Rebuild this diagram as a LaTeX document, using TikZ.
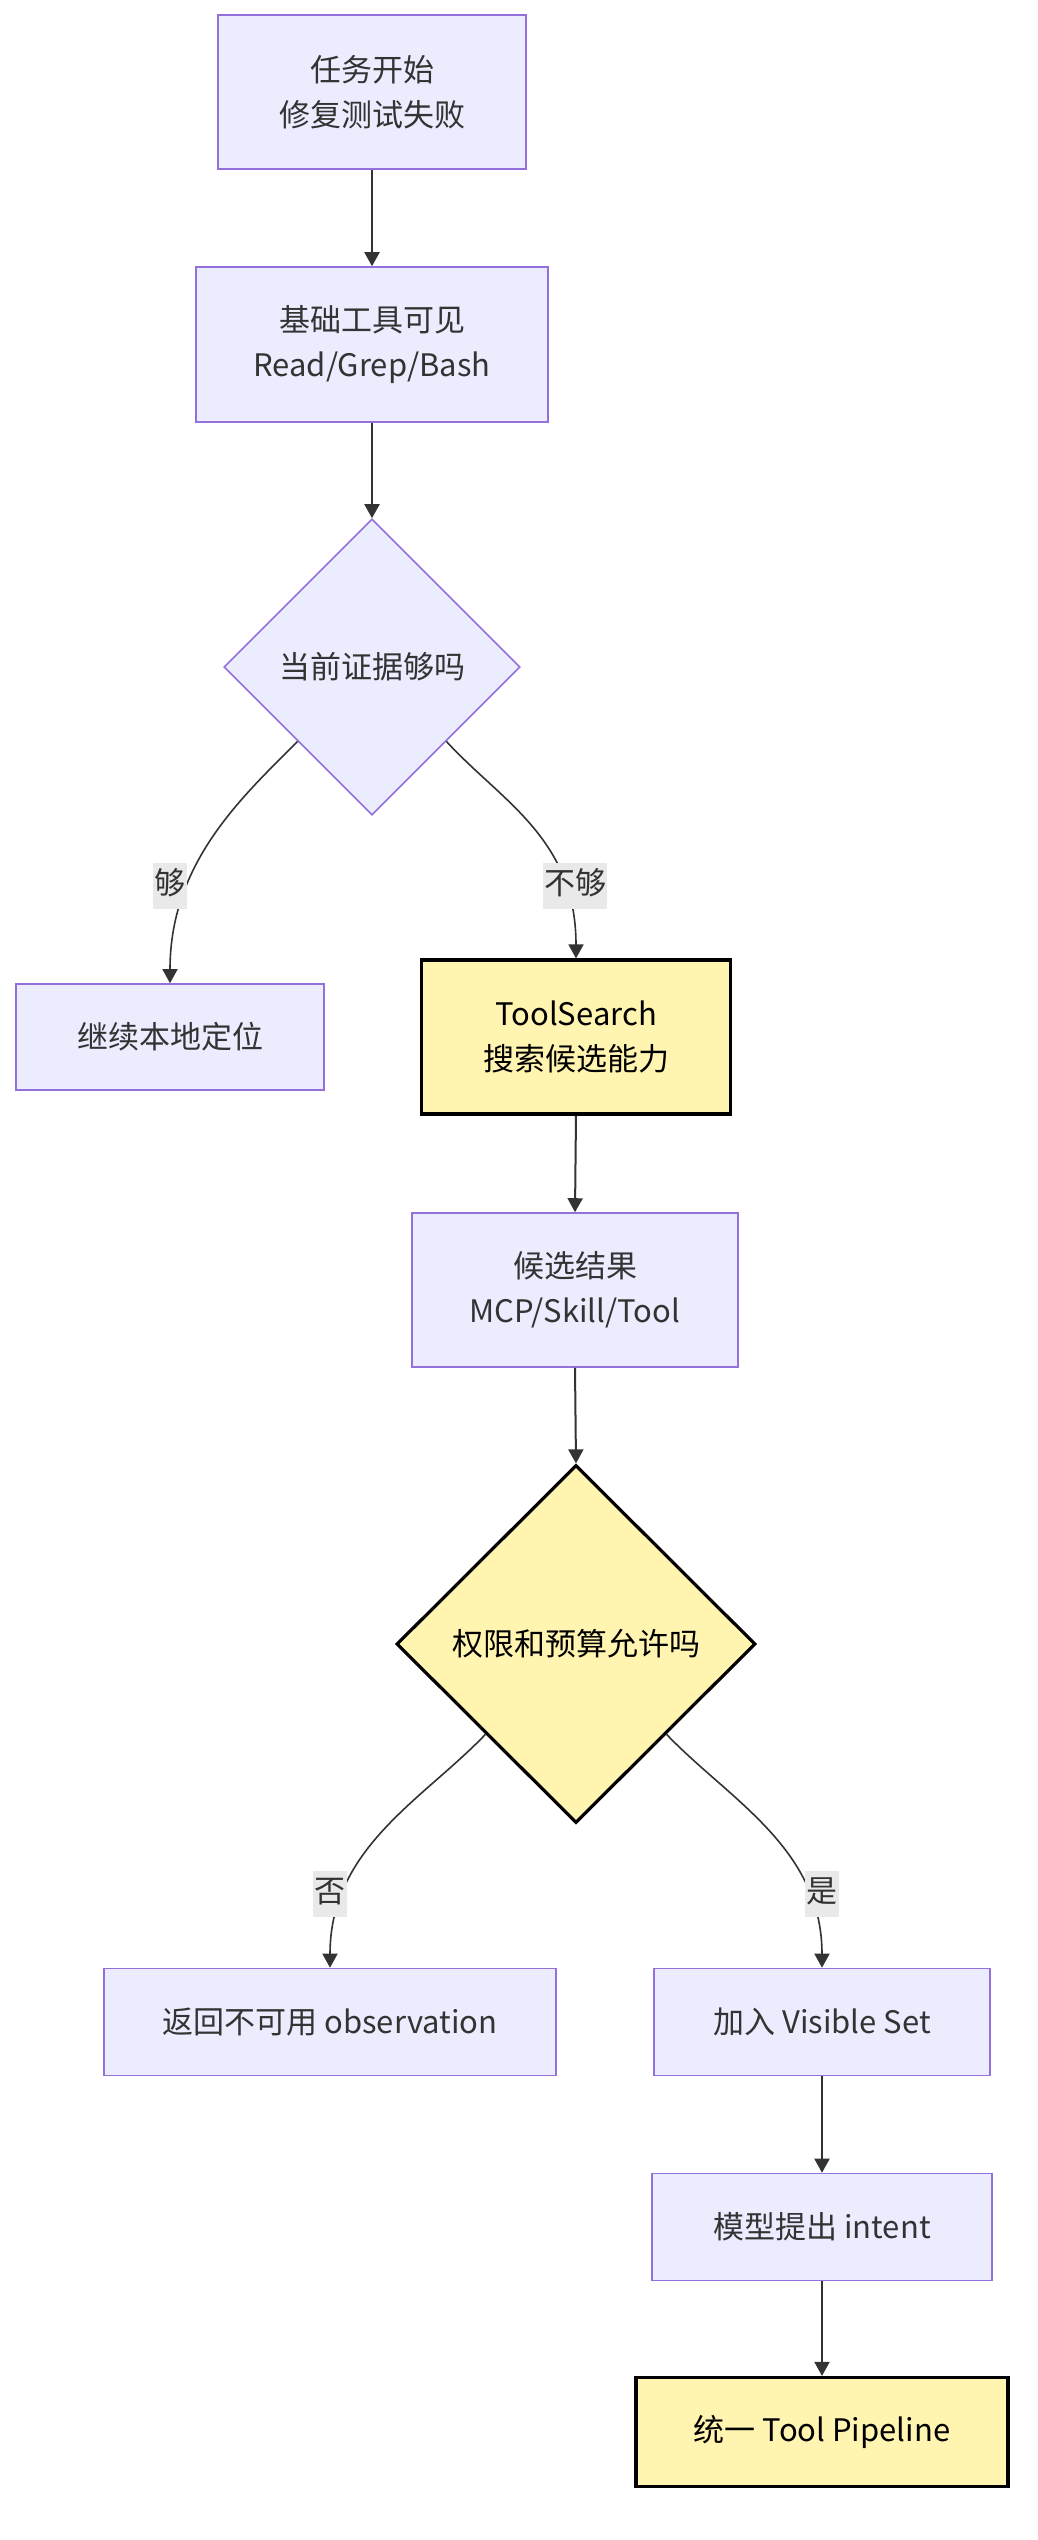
\documentclass[tikz,border=0pt]{standalone}
\usepackage{fontspec}
\setmainfont{Noto Sans CJK SC}
\usetikzlibrary{shapes.geometric,arrows.meta,calc}
\definecolor{mfill}{HTML}{ECECFF}
\definecolor{mstroke}{HTML}{9370DB}
\definecolor{mtext}{HTML}{333333}
\definecolor{hfill}{HTML}{FFF4B0}
\definecolor{edgec}{HTML}{333333}
\definecolor{lblgray}{HTML}{E9E9E9}
\tikzset{
  base/.style={align=center, inner sep=0pt, font=\fontsize{15.5pt}{22.5pt}\selectfont},
  proc/.style={base, rectangle, draw=mstroke, fill=mfill, line width=0.8pt, text=mtext},
  hproc/.style={base, rectangle, draw=black, fill=hfill, line width=1.6pt, text=black},
  dec/.style={base, diamond, aspect=1, draw=mstroke, fill=mfill, line width=0.8pt, text=mtext},
  hdec/.style={base, diamond, aspect=1, draw=black, fill=hfill, line width=1.6pt, text=black},
  lbl/.style={base, fill=lblgray, text=mtext, inner xsep=0.6pt, inner ysep=4pt, text height=11.5pt, text depth=3.5pt},
  arr/.style={draw=edgec, line width=1pt, -{Triangle[length=7pt,width=7.5pt]}},
  carr/.style={draw=edgec, line width=0.8pt, -{Triangle[length=7pt,width=7.5pt]}}
}
\begin{document}
\begin{tikzpicture}[x=0.5pt,y=0.5pt]
\fill[white] (0,0) rectangle (1038,-2540);
\useasboundingbox (0,0) rectangle (1038,-2540);

\node[proc, minimum width=154pt, minimum height=77pt] (b1) at (372,-92) {任务开始\\修复测试失败};
\node[proc, minimum width=176pt, minimum height=77.5pt] (b2) at (372,-344.5) {基础工具可见\\Read/Grep/Bash};
\node[dec, minimum width=148pt, minimum height=148pt] (d1) at (372,-667) {当前证据够吗};
\node[proc, minimum width=154pt, minimum height=53pt] (b3) at (170,-1037) {继续本地定位};
\node[hproc, minimum width=154.5pt, minimum height=77pt] (b4) at (576,-1037) {ToolSearch\\搜索候选能力};
\node[proc, minimum width=163pt, minimum height=77pt] (b5) at (575,-1290) {候选结果\\MCP/Skill/Tool};
\node[hdec, minimum width=179.5pt, minimum height=179pt] (d2) at (576,-1644) {权限和预算允许吗};
\node[proc, minimum width=226pt, minimum height=53.5pt] (b6) at (330,-2022) {返回不可用 observation};
\node[proc, minimum width=168pt, minimum height=53.5pt] (b7) at (822,-2022) {加入 Visible Set};
\node[proc, minimum width=170pt, minimum height=53.5pt] (b8) at (822,-2227) {模型提出 intent};
\node[hproc, minimum width=186pt, minimum height=54.5pt] (b9) at (822,-2432) {统一 Tool Pipeline};

\draw[arr] (b1.south) -- (b2.north);
\draw[arr] (b2.south) -- (d1.north);
\draw[arr] (b4.south) -- (b5.north);
\draw[arr] (b5.south) -- (d2.north);
\draw[arr] (b7.south) -- (b8.north);
\draw[arr] (b8.south) -- (b9.north);

\draw[carr] (d1.south west) .. controls ($(d1.south west)+(-57,-57)$) and ($(b3.north)+(0,120)$) .. (b3.north);
\draw[carr] (d1.south east) .. controls ($(d1.south east)+(55,-60)$) and ($(b4.north)+(0,120)$) .. (b4.north);
\draw[carr] (d2.south west) .. controls ($(d2.south west)+(-62,-65)$) and ($(b6.north)+(0,120)$) .. (b6.north);
\draw[carr] (d2.south east) .. controls ($(d2.south east)+(62,-65)$) and ($(b7.north)+(0,120)$) .. (b7.north);

\node[lbl] (l1) at (170,-886) {够};
\node[lbl] (l2) at (575,-886) {不够};
\node[lbl] (l3) at (330,-1894) {否};
\node[lbl] (l4) at (822,-1894) {是};
\end{tikzpicture}
\end{document}
